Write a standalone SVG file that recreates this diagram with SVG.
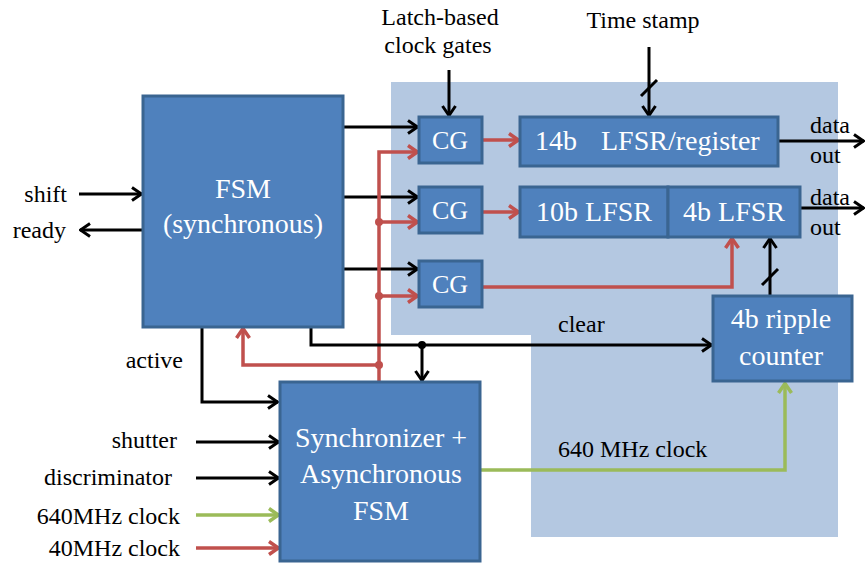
<svg xmlns="http://www.w3.org/2000/svg" width="865" height="563" viewBox="0 0 865 563" font-family="'Liberation Serif', 'DejaVu Serif', 'Times New Roman', serif">
<style>
text{font-family:'Liberation Serif','DejaVu Serif','Times New Roman',serif;fill:#000}
.lbl{font-size:24px}
.bt{font-size:28px;fill:#fff;text-anchor:middle}
.cg{font-size:26px;fill:#fff;text-anchor:middle}
.box{fill:#4F81BD;stroke:#3A6591;stroke-width:3}
.k{stroke:#000;stroke-width:3;fill:none}
.r{stroke:#C0504D;stroke-width:3.5;fill:none}
.g{stroke:#9BBB59;stroke-width:3.5;fill:none}
.ak{marker-end:url(#mk)}
.ar{marker-end:url(#mr)}
.ag{marker-end:url(#mg)}
</style>
<defs>
<marker id="mk" viewBox="0 0 12 16" refX="11" refY="8" markerWidth="12" markerHeight="16" markerUnits="userSpaceOnUse" orient="auto"><path d="M1,1.5 L10.5,8 L1,14.5" fill="none" stroke="#000" stroke-width="3"/></marker>
<marker id="mr" viewBox="0 0 12 16" refX="11" refY="8" markerWidth="12" markerHeight="16" markerUnits="userSpaceOnUse" orient="auto"><path d="M1,1.5 L10.5,8 L1,14.5" fill="none" stroke="#C0504D" stroke-width="3.5"/></marker>
<marker id="mg" viewBox="0 0 12 16" refX="11" refY="8" markerWidth="12" markerHeight="16" markerUnits="userSpaceOnUse" orient="auto"><path d="M1,1.5 L10.5,8 L1,14.5" fill="none" stroke="#9BBB59" stroke-width="3.5"/></marker>
</defs>
<rect width="865" height="563" fill="#fff"/>
<polygon id="region" points="391,82 838,82 838,537 531,537 531,335 391,335" fill="#B4C8E1"/>

<g id="connectors">
<line class="k ak" x1="79" y1="194" x2="142" y2="194"/>
<line class="k ak" x1="143" y1="230" x2="80" y2="230"/>
<line class="k ak" x1="343" y1="127" x2="418" y2="127"/>
<line class="k ak" x1="343" y1="197" x2="418" y2="197"/>
<line class="k ak" x1="343" y1="269" x2="418" y2="269"/>
<polyline class="r ar" points="379,382 379,152 418,152"/>
<line class="r ar" x1="379" y1="222" x2="418" y2="222"/>
<line class="r ar" x1="379" y1="296" x2="418" y2="296"/>
<polyline class="r ar" points="379,365 243,365 243,328"/>
<circle cx="379" cy="222" r="4" fill="#C0504D"/>
<circle cx="379" cy="296" r="4" fill="#C0504D"/>
<circle cx="379" cy="365" r="4" fill="#C0504D"/>
<polyline class="k ak" points="202,327 202,402 278,402"/>
<polyline class="k ak" points="311,327 311,345 712,345"/>
<line class="k ak" x1="422" y1="345" x2="422" y2="381"/>
<circle cx="422" cy="345" r="4" fill="#000"/>
<line class="k ak" x1="449" y1="70" x2="449" y2="116"/>
<line class="k ak" x1="649" y1="47" x2="649" y2="116"/>
<line class="k" x1="641" y1="96" x2="657" y2="80"/>
<line class="r ar" x1="482" y1="140" x2="519" y2="140"/>
<line class="r ar" x1="482" y1="212" x2="519" y2="212"/>
<polyline class="r ar" points="482,287 732,287 732,238"/>
<line class="k ak" x1="770" y1="296" x2="770" y2="238"/>
<line class="k" x1="762" y1="285" x2="778" y2="269"/>
<line class="k ak" x1="778" y1="141" x2="864" y2="141"/>
<line class="k ak" x1="800" y1="208" x2="864" y2="208"/>
<polyline class="g ag" points="480,470 785,470 785,383"/>
<line class="k ak" x1="196" y1="442" x2="279" y2="442"/>
<line class="k ak" x1="196" y1="478" x2="279" y2="478"/>
<line class="g ag" x1="196" y1="515" x2="279" y2="515"/>
<line class="r ar" x1="196" y1="548" x2="279" y2="548"/>
</g>

<g id="fsm">
<rect class="box" x="143" y="96" width="200" height="231"/>
<text class="bt" x="243" y="198">FSM</text>
<text class="bt" x="243" y="233">(synchronous)</text>
</g>
<g id="cg1"><rect class="box" x="419" y="117" width="63" height="46"/><text class="cg" x="450" y="149">CG</text></g>
<g id="cg2"><rect class="box" x="419" y="187" width="63" height="46"/><text class="cg" x="450" y="219">CG</text></g>
<g id="cg3"><rect class="box" x="419" y="261" width="63" height="46"/><text class="cg" x="450" y="293">CG</text></g>
<g id="lfsr14">
<rect class="box" x="520" y="117" width="258" height="49"/>
<text class="bt" x="535" y="150" style="text-anchor:start">14b</text>
<text class="bt" x="601" y="150" style="text-anchor:start">LFSR/register</text>
</g>
<g id="lfsr10">
<rect class="box" x="520" y="187" width="148" height="50"/>
<text class="bt" x="594" y="221">10b LFSR</text>
</g>
<g id="lfsr4">
<rect class="box" x="668" y="187" width="132" height="50"/>
<text class="bt" x="734" y="221">4b LFSR</text>
</g>
<g id="counter">
<rect class="box" x="713" y="296" width="139" height="85"/>
<text class="bt" x="781" y="328">4b ripple</text>
<text class="bt" x="781" y="365">counter</text>
</g>
<g id="sync">
<rect class="box" x="280" y="382" width="200" height="179"/>
<text class="bt" x="381" y="447">Synchronizer +</text>
<text class="bt" x="381" y="483">Asynchronous</text>
<text class="bt" x="381" y="520">FSM</text>
</g>

<g id="labels">
<text class="lbl" x="440" y="25" text-anchor="middle">Latch-based</text>
<text class="lbl" x="438" y="53" text-anchor="middle">clock gates</text>
<text class="lbl" x="643" y="28" text-anchor="middle">Time stamp</text>
<text class="lbl" x="67" y="202" text-anchor="end">shift</text>
<text class="lbl" x="66" y="238" text-anchor="end">ready</text>
<text class="lbl" x="183" y="368" text-anchor="end">active</text>
<text class="lbl" x="558" y="332">clear</text>
<text class="lbl" x="810" y="133">data</text>
<text class="lbl" x="810" y="163">out</text>
<text class="lbl" x="810" y="205">data</text>
<text class="lbl" x="810" y="235">out</text>
<text class="lbl" x="558" y="457">640 MHz clock</text>
<text class="lbl" x="177" y="448" text-anchor="end">shutter</text>
<text class="lbl" x="172" y="485" text-anchor="end">discriminator</text>
<text class="lbl" x="180" y="524" text-anchor="end">640MHz clock</text>
<text class="lbl" x="180" y="556" text-anchor="end">40MHz clock</text>
</g>
</svg>
